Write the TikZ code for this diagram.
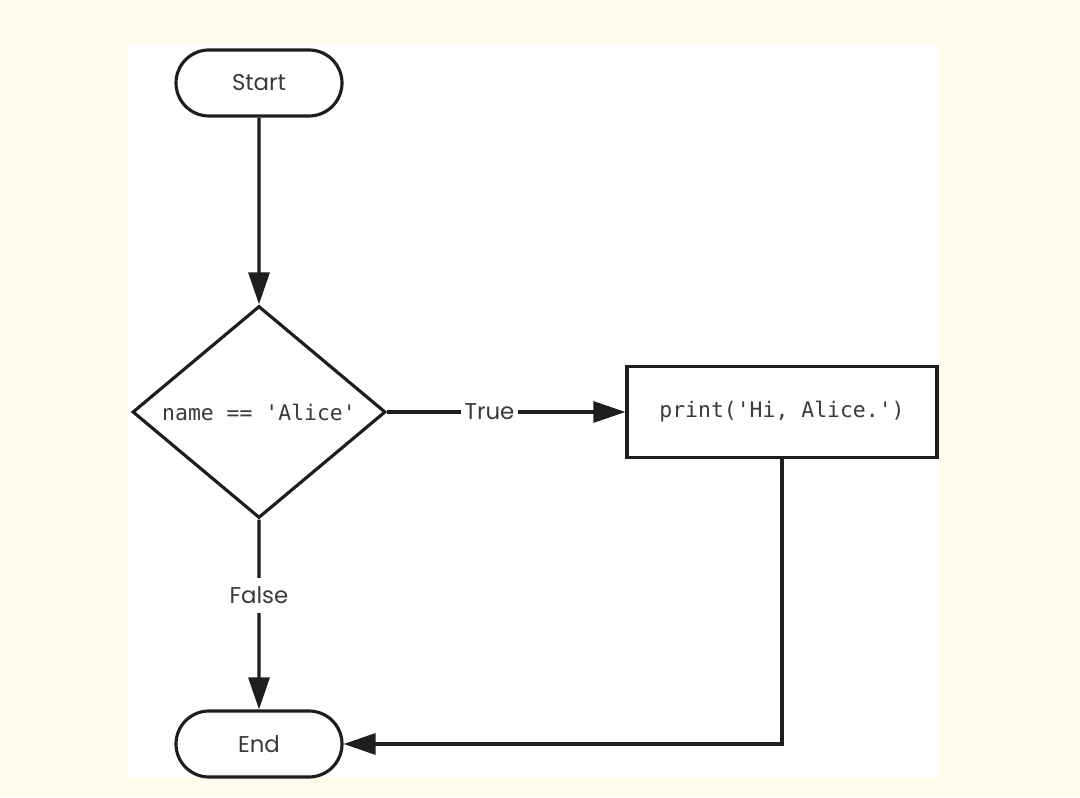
\documentclass[tikz,border=0pt]{standalone}
\usepackage{fontspec}
\setmainfont{Poppins}
\setmonofont{DejaVu Sans Mono}
\usetikzlibrary{shapes.geometric,shapes.misc,arrows.meta,positioning}
\definecolor{paper}{HTML}{FFFCEB}
\definecolor{ink}{HTML}{1E1E1E}
\definecolor{txt}{HTML}{3A3A3A}

\begin{document}
\begin{tikzpicture}[
  line width=1.8pt, draw=ink,
  terminal/.style={rounded rectangle, draw=ink, fill=white, minimum width=3.32cm, minimum height=1.32cm, inner sep=0pt, font=\fontsize{13}{15}\selectfont, text=txt},
  decision/.style={diamond, draw=ink, fill=white, minimum width=5.06cm, minimum height=4.24cm, inner sep=0pt, font=\ttfamily\fontsize{12.2}{14}\selectfont, text=txt},
  process/.style={rectangle, draw=ink, fill=white, minimum width=6.2cm, minimum height=1.82cm, inner sep=0pt, font=\ttfamily\fontsize{12.2}{14}\selectfont, text=txt},
  flow/.style={ink, -{Triangle[length=0.64cm,width=0.42cm]}},
  branch/.style={fill=white, inner xsep=2pt, inner ysep=5pt, font=\fontsize{13}{15}\selectfont, text=txt}
]
  % page and panel
  \fill[paper] (0,0) rectangle (21.6,15.94);
  \fill[white] (2.56,0.38) rectangle (18.78,15.04);
  \useasboundingbox (0,0) rectangle (21.6,15.94);
  % nodes
  \node[terminal] (start) at (5.18,14.28) {Start};
  \node[decision] (test) at (5.18,7.70) {name == 'Alice'};
  \node[process] (greet) at (15.64,7.70) {print('Hi, Alice.')};
  \node[terminal] (finish) at (5.18,1.06) {End};
  % connectors
  \draw[flow] (start) -- (test);
  \draw[flow] (test) -- node[branch, pos=0.43] {True} (greet);
  \draw[flow] (test) -- node[branch, pos=0.40] {False} (finish);
  \draw[flow] (greet) |- (finish);
\end{tikzpicture}
\end{document}
